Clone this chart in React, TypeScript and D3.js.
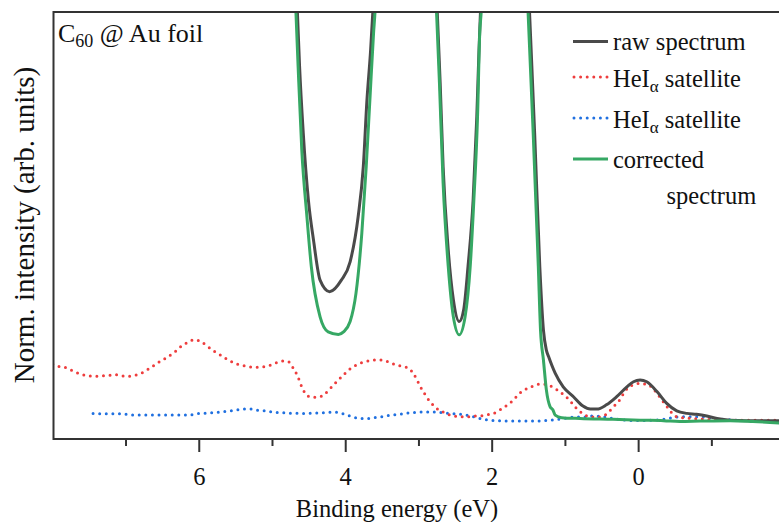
import React from "react";
import * as d3 from "d3";

type P = [number, number];

// Binding energy (eV), normalized intensity (arb. units)
const rawSpectrum: P[] = [
  [4.72, 130], [4.66, 100], [4.63, 87.2], [4.58, 71.7], [4.51, 56.0], [4.44, 46.6], [4.35, 37.2],
  [4.22, 34.5], [4.06, 37.2], [3.94, 41.5], [3.83, 52.1], [3.76, 63.8], [3.71, 79.4], [3.66, 91.1],
  [3.63, 100], [3.56, 130], [3.2, 200], [2.82, 130], [2.75, 100], [2.71, 83.3], [2.67, 63.8], [2.60, 44.3],
  [2.53, 32.6], [2.45, 27.5], [2.39, 30.2], [2.33, 40.4], [2.26, 56.0], [2.21, 75.5], [2.18, 91.1],
  [2.16, 100], [2.1, 130], [1.8, 220], [1.56, 130], [1.49, 100], [1.42, 71.6], [1.35, 40.4], [1.30, 25.5], [1.26, 20.8],
  [1.23, 19.3], [1.14, 15.4], [1.03, 12.2], [0.89, 9.9], [0.76, 7.7], [0.66, 7.0], [0.57, 7.0],
  [0.44, 8.0], [0.30, 9.9], [0.16, 12.2], [0.07, 13.4], [-0.02, 13.8], [-0.11, 13.4], [-0.25, 11.1],
  [-0.38, 8.4], [-0.52, 6.6], [-0.66, 6.0], [-0.79, 5.8], [-0.93, 5.4], [-1.07, 4.8], [-1.25, 4.4],
  [-1.47, 4.3], [-1.95, 4.3],
];

const satelliteRed: P[] = [
  [8.0, 17.5], [7.98, 17.3], [7.88, 16.9], [7.80, 16.6], [7.71, 15.8], [7.62, 15.2], [7.53, 14.8], [7.43, 14.7],
  [7.33, 14.8], [7.24, 14.9], [7.15, 15.1], [7.06, 14.8], [6.97, 14.7], [6.88, 14.9], [6.79, 15.4],
  [6.71, 16.2], [6.63, 17.1], [6.55, 18.0], [6.47, 18.8], [6.39, 19.7], [6.31, 20.7], [6.24, 21.8],
  [6.15, 22.7], [6.06, 23.3], [5.97, 22.7], [5.90, 21.9], [5.82, 20.8], [5.74, 20.0], [5.66, 19.1],
  [5.58, 18.3], [5.49, 17.6], [5.40, 17.2], [5.31, 16.9], [5.21, 16.8], [5.12, 16.9], [5.03, 17.3],
  [4.94, 17.9], [4.85, 18.3], [4.78, 18.1], [4.72, 16.7], [4.67, 15.2], [4.63, 13.6], [4.60, 12.2],
  [4.56, 10.9], [4.47, 9.8], [4.38, 9.8], [4.29, 10.5], [4.23, 11.5], [4.16, 12.8], [4.09, 14.0],
  [4.02, 15.2], [3.95, 16.3], [3.86, 17.3], [3.78, 17.9], [3.68, 18.3], [3.59, 18.5], [3.50, 18.5],
  [3.41, 18.0], [3.32, 17.4], [3.23, 17.0], [3.14, 16.6], [3.08, 15.4], [3.03, 14.0], [2.99, 12.5],
  [2.94, 11.1], [2.89, 9.7], [2.83, 8.4], [2.76, 7.2], [2.68, 6.4], [2.59, 5.7], [2.49, 5.3],
  [2.40, 5.2], [2.31, 5.2], [2.21, 5.4], [2.12, 5.5], [2.03, 5.8], [1.94, 6.3], [1.86, 7.2],
  [1.79, 8.0], [1.71, 9.1], [1.64, 10.5], [1.57, 11.4], [1.47, 12.2], [1.38, 12.8], [1.29, 12.8],
  [1.20, 12.4], [1.12, 11.6], [1.05, 10.7], [0.98, 9.7], [0.91, 8.4], [0.84, 7.0], [0.76, 5.9],
  [0.66, 5.2], [0.57, 5.1], [0.48, 5.4], [0.41, 6.3], [0.34, 7.6], [0.26, 9.1], [0.19, 11.1],
  [0.10, 12.5], [-0.02, 13.0], [-0.11, 12.8], [-0.18, 12.1], [-0.25, 10.7], [-0.31, 9.3],
  [-0.37, 8.0], [-0.43, 6.6], [-0.48, 5.6], [-0.55, 5.1], [-0.84, 4.7], [-1.25, 4.4], [-1.95, 4.4],
];

const satelliteBlue: P[] = [
  [7.45, 6.0], [7.24, 5.9], [7.06, 5.9], [6.88, 5.6], [6.70, 5.6], [6.51, 5.6], [6.33, 5.6], [6.15, 5.6],
  [6.04, 5.9], [5.85, 6.1], [5.67, 6.4], [5.49, 6.8], [5.39, 7.0], [5.29, 7.0], [5.19, 6.7], [5.09, 6.6],
  [5.00, 6.3], [4.82, 6.1], [4.64, 6.0], [4.53, 6.0], [4.35, 6.1], [4.17, 6.3], [4.07, 6.1], [3.98, 5.6],
  [3.89, 5.1], [3.79, 4.8], [3.70, 4.8], [3.60, 5.0], [3.51, 5.2], [3.42, 5.5], [3.33, 5.7], [3.23, 5.9],
  [3.14, 6.1], [3.05, 6.2], [2.96, 6.3], [2.86, 6.3], [2.77, 6.3], [2.68, 6.2], [2.59, 6.0], [2.49, 5.9],
  [2.40, 5.7], [2.30, 5.4], [2.21, 5.0], [2.12, 4.6], [2.02, 4.4], [1.93, 4.3], [1.84, 4.2], [1.65, 4.2],
  [1.46, 4.2], [1.28, 4.3], [1.10, 4.6], [0.89, 5.1], [0.71, 5.2], [0.62, 5.4], [0.48, 5.2], [0.35, 4.8],
  [0.16, 4.4], [-0.02, 4.3], [-0.20, 4.4], [-0.38, 4.7], [-0.50, 5.1], [-0.61, 5.2], [-0.79, 5.2],
  [-0.97, 5.0], [-1.16, 4.6], [-1.34, 4.4],
];

const correctedSpectrum: P[] = [
  [4.74, 130], [4.68, 100], [4.65, 87.2], [4.60, 67.7], [4.53, 52.1], [4.47, 40.4], [4.35, 28.6],
  [4.24, 25.1], [4.10, 24.5], [4.03, 25.1], [3.94, 27.5], [3.86, 34.1], [3.78, 48.2], [3.72, 63.8],
  [3.67, 79.4], [3.62, 95.0], [3.60, 100], [3.54, 130], [3.2, 200], [2.83, 130], [2.76, 100], [2.72, 83.3], [2.67, 59.9],
  [2.60, 40.4], [2.53, 28.6], [2.45, 24.4], [2.37, 28.6], [2.30, 40.4], [2.25, 56.0], [2.20, 75.5],
  [2.17, 95.0], [2.15, 100], [2.09, 130], [1.8, 220], [1.58, 130], [1.51, 100], [1.44, 71.6], [1.37, 40.4], [1.34, 25.5],
  [1.30, 18.5], [1.26, 11.5], [1.21, 7.6], [1.17, 6.8], [1.14, 5.6], [1.05, 5.0], [0.80, 4.8],
  [0.35, 4.6], [-0.02, 4.4], [-0.34, 4.3], [-0.56, 4.1], [-0.84, 4.2], [-1.25, 4.3], [-1.56, 4.1],
  [-1.95, 3.7],
];

const majorTicks = [8, 6, 4, 2, 0, -2];
const minorTicks = [7, 5, 3, 1, -1];
const legendItems = ["raw spectrum", "HeI", "HeI", "corrected"];

const W = 779;
const H = 522;
const left = 53.5;
const top = 12;
const bottom = 439;

const x = d3.scaleLinear().domain([8, -2]).range([52.8, 785.1]);
const y = d3.scaleLinear().domain([0, 100]).range([bottom, top]);

const line = d3
  .line<P>()
  .x((d) => x(d[0]))
  .y((d) => y(d[1]))
  .curve(d3.curveMonotoneX);

const GRAY = "#4a4a4a";
const RED = "#ee3d3d";
const BLUE = "#2070e0";
const GREEN = "#36a864";
const AXIS = "#333333";
const FONT = '"Liberation Serif", Tinos, "Times New Roman", "DejaVu Serif", serif';

export default function App() {
  const fs = 24.5;
  return (
    <svg
      width={W}
      height={H}
      viewBox={`0 0 ${W} ${H}`}
      style={{ position: "fixed", left: 0, top: 0, background: "#fff", fontFamily: FONT }}
    >
      <defs>
        <clipPath id="plot">
          <rect x={left} y={top} width={W - left} height={bottom - top} />
        </clipPath>
      </defs>
      <g clipPath="url(#plot)" fill="none">
        <path d={line(satelliteBlue) || ""} stroke={BLUE} strokeWidth={3} strokeDasharray="0 6.6" strokeLinecap="round" />
        <path d={line(satelliteRed) || ""} stroke={RED} strokeWidth={3} strokeDasharray="0 6.6" strokeLinecap="round" />
        <path d={line(rawSpectrum) || ""} stroke={GRAY} strokeWidth={3} strokeLinejoin="round" />
        <path d={line(correctedSpectrum) || ""} stroke={GREEN} strokeWidth={3} strokeLinejoin="round" />
      </g>
      {/* frame */}
      <line x1={left} x2={W} y1={top} y2={top} stroke={AXIS} strokeWidth={2} />
      <line x1={left} x2={W} y1={bottom} y2={bottom} stroke={AXIS} strokeWidth={2} />
      <line x1={left} x2={left} y1={top - 1} y2={bottom + 1} stroke={AXIS} strokeWidth={2} />
      {/* ticks */}
      {majorTicks
        .filter((t) => x(t) > left + 2 && x(t) < W)
        .map((t) => (
          <g key={"M" + t}>
            <line x1={x(t)} x2={x(t)} y1={bottom} y2={bottom + 13} stroke={AXIS} strokeWidth={2} />
            <text x={x(t)} y={bottom + 46} textAnchor="middle" fontSize={fs} fill="#111">
              {d3.format("d")(t)}
            </text>
          </g>
        ))}
      {minorTicks.map((t) => (
        <line key={"m" + t} x1={x(t)} x2={x(t)} y1={bottom} y2={bottom + 7} stroke={AXIS} strokeWidth={2} />
      ))}
      {/* axis titles */}
      <text x={397} y={517} textAnchor="middle" fontSize={fs} fill="#111">
        Binding energy (eV)
      </text>
      <text transform={`translate(34,225) rotate(-90)`} textAnchor="middle" fontSize={29} fill="#111">
        Norm. intensity (arb. units)
      </text>
      {/* title */}
      <text x={58} y={41.5} fontSize={26} fill="#111">
        C<tspan fontSize={18} dy={5}>60</tspan>
        <tspan dy={-5}> @ Au foil</tspan>
      </text>
      {/* legend */}
      <g fontSize={fs} fill="#111">
        <line x1={573} x2={608} y1={41.5} y2={41.5} stroke={GRAY} strokeWidth={3} />
        <text x={613} y={50}>{legendItems[0]}</text>
        <line x1={574} x2={608} y1={77} y2={77} stroke={RED} strokeWidth={3} strokeDasharray="0 6.6" strokeLinecap="round" />
        <text x={613} y={87}>
          {legendItems[1]}
          <tspan fontSize={17} dy={5}>α</tspan>
          <tspan dy={-5}> satellite</tspan>
        </text>
        <line x1={574} x2={608} y1={118} y2={118} stroke={BLUE} strokeWidth={3} strokeDasharray="0 6.6" strokeLinecap="round" />
        <text x={613} y={128}>
          {legendItems[2]}
          <tspan fontSize={17} dy={5}>α</tspan>
          <tspan dy={-5}> satellite</tspan>
        </text>
        <line x1={573} x2={608} y1={159} y2={159} stroke={GREEN} strokeWidth={3} />
        <text x={613} y={168}>{legendItems[3]}</text>
        <text x={666.5} y={204}>spectrum</text>
      </g>
    </svg>
  );
}
